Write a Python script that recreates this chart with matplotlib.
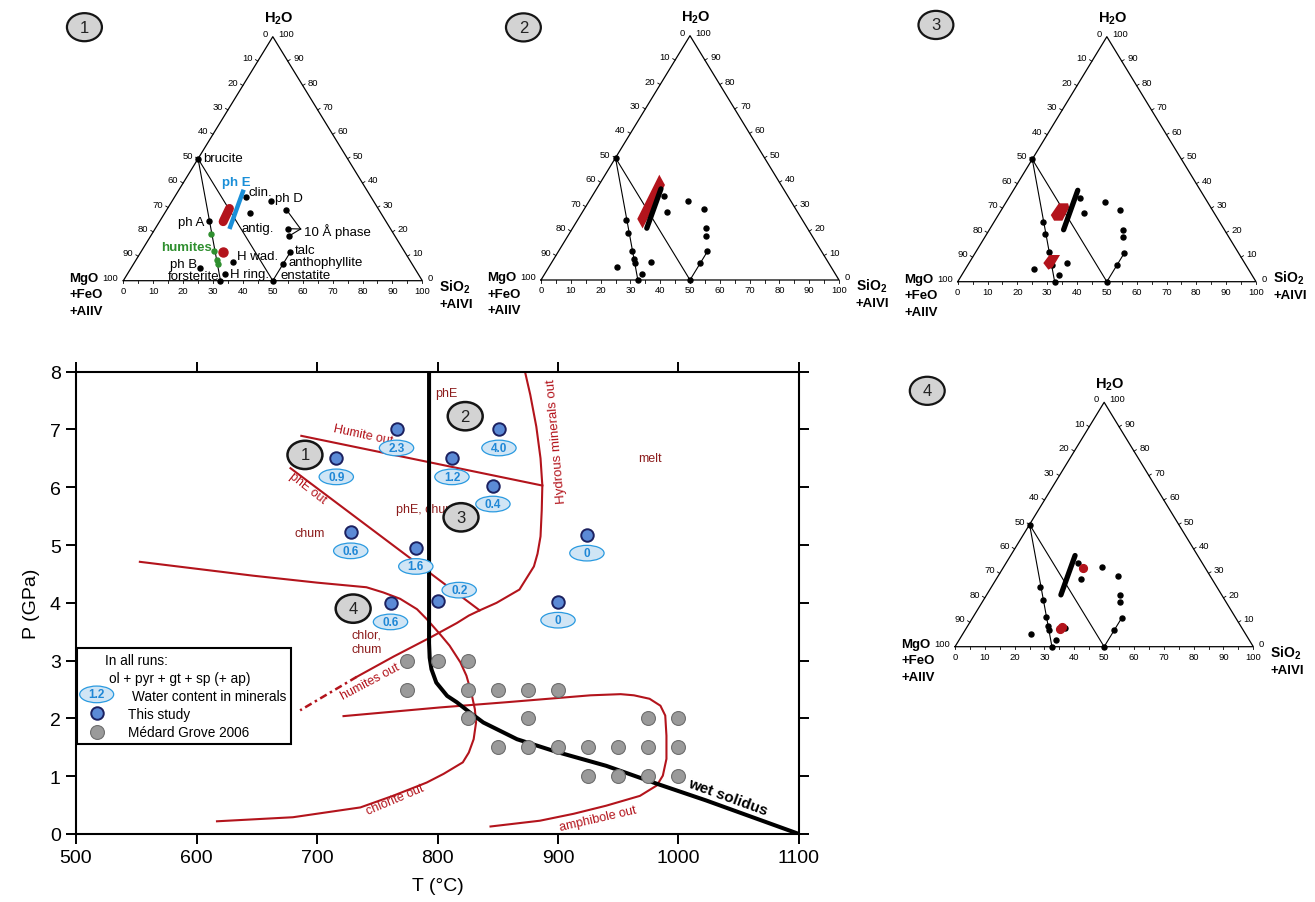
import numpy as np
import matplotlib.pyplot as plt
from matplotlib.patches import Ellipse, Rectangle, Polygon

plt.rcParams['font.family'] = ['Liberation Sans', 'DejaVu Sans']
plt.rcParams['mathtext.fontset'] = 'custom'
plt.rcParams['mathtext.rm'] = 'Liberation Sans'
plt.rcParams['mathtext.bf'] = 'Liberation Sans:bold'

RED = '#b3141c'
DARKRED = '#8c1c1c'
BLUE_PT = '#5b8ad6'
NAVY = '#1c2160'

# runs of this study: T (C), P (GPa), water content in minerals (wt%)
run_T = [716, 766, 812, 851, 846, 728, 782, 924, 800, 761, 900]
run_P = [6.5, 7.0, 6.5, 7.0, 6.03, 5.22, 4.95, 5.18, 4.03, 3.99, 4.02]
run_water = ['0.9', '2.3', '1.2', '4.0', '0.4', '0.6', '1.6', '0', '0.2', '0.6', '0']

# Medard & Grove 2006 runs
mg_T = [775, 800, 825,
        775, 825, 850, 875, 900,
        825, 875, 975, 1000,
        850, 875, 900, 925, 950, 975, 1000,
        925, 950, 975, 1000]
mg_P = [3.0, 3.0, 3.0,
        2.5, 2.5, 2.5, 2.5, 2.5,
        2.0, 2.0, 2.0, 2.0,
        1.5, 1.5, 1.5, 1.5, 1.5, 1.5, 1.5,
        1.0, 1.0, 1.0, 1.0]

# phase boundaries
solidus_T = [793, 793, 793.5, 795, 799, 808, 816, 827, 838, 866, 899, 940, 982, 1023, 1100]
solidus_P = [8.0, 3.3, 3.05, 2.85, 2.62, 2.39, 2.28, 2.10, 1.93, 1.64, 1.42, 1.18, 0.87, 0.58, 0.0]

humite_out_T = [687, 887]
humite_out_P = [6.89, 6.03]

phE_out_T = [678, 835]
phE_out_P = [6.33, 3.87]

hydrous_T = [872.6, 877, 882, 885.5, 887, 886.5, 885.5, 883, 880, 868, 849, 835, 826, 816, 794, 763.5, 733]
hydrous_P = [8.0, 7.6, 7.05, 6.5, 6.03, 5.6, 5.15, 4.85, 4.63, 4.23, 4.0, 3.87, 3.78, 3.65, 3.4, 3.07, 2.72]

humites_ext_T = [733, 686]
humites_ext_P = [2.72, 2.14]

chlorite_T = [553, 647, 700, 741, 755, 769, 783, 791, 802, 810, 819, 824, 828, 831, 832,
              830, 826, 821, 805, 791, 763, 736, 708, 680, 617]
chlorite_P = [4.71, 4.47, 4.35, 4.27, 4.18, 4.07, 3.89, 3.72, 3.46, 3.26, 2.97, 2.74, 2.45, 2.16, 1.93,
              1.64, 1.41, 1.24, 1.04, 0.89, 0.66, 0.46, 0.375, 0.29, 0.22]

amph_T = [722, 802, 857, 927, 952, 963, 976, 985, 989, 990, 990, 987, 982, 968, 940, 913, 885, 844]
amph_P = [2.04, 2.19, 2.28, 2.40, 2.42, 2.40, 2.34, 2.22, 2.05, 1.70, 1.30, 1.01, 0.84, 0.66, 0.49, 0.35, 0.23, 0.13]

# ternary compositions (mol% SiO2+AlVI, mol% H2O)
phase_sio2 = [0, 24.0, 33.0, 40.0, 28.3, 16.3, 44.6, 46.2, 50, 50, 50, 32.5, 32.7, 33.0, 22.9]
phase_h2o = [50, 34.3, 32.5, 29.1, 27.9, 24.5, 21.3, 18.2, 11.7, 6.8, 0, 0, 2.6, 7.5, 5.2]
humite_sio2 = [19.7, 24.5, 27.0, 28.2]
humite_h2o = [19.3, 12.0, 8.5, 6.8]
phE_sio2 = [21.6, 24.9]
phE_h2o = [37.3, 21.2]

# measured compositions for each panel
t1_blob_sio2 = [20.7, 21.3]
t1_blob_h2o = [29.6, 24.2]
t1_dot_sio2 = [27.4]
t1_dot_h2o = [11.6]
t2_field_sio2 = [19.8, 18.15, 22.15, 23.55]
t2_field_h2o = [25.0, 43.1, 38.9, 21.1]
t3_upper_sio2 = [17.6, 17.9, 21.0, 22.25, 22.65, 19.85]
t3_upper_h2o = [27.2, 32.0, 32.0, 30.3, 24.9, 24.9]
t3_lower_sio2 = [24.9, 25.25, 28.85, 28.9, 27.95]
t3_lower_h2o = [7.6, 10.9, 10.9, 5.85, 4.9]
t4_dot_sio2 = [26.8, 31.6, 31.95]
t4_dot_h2o = [32.2, 7.2, 8.05]


def txy(sio2, h2o):
    s = np.asarray(sio2, dtype=float)
    w = np.asarray(h2o, dtype=float)
    return s + w / 2, w


fig = plt.figure(figsize=(13.15, 9.03), dpi=100)
FW, FH = 1315, 903


def px_axes(left, top, right, bottom):
    return fig.add_axes([left / FW, 1 - bottom / FH, (right - left) / FW, (bottom - top) / FH])


# ---------------- P-T diagram ----------------
ax = px_axes(76, 372.7, 799, 835)
ax.set_xlim(500, 1100)
ax.set_ylim(0, 8)
ax.set_xticks(range(500, 1101, 100))
ax.set_yticks(range(0, 9))
ax.tick_params(direction='out', length=7, width=1.4, labelsize=14, pad=4,
               top=True, right=True, labeltop=False, labelright=False)
for sp in ax.spines.values():
    sp.set_linewidth(1.5)
ax.set_xlabel('T (°C)', fontsize=14)
ax.set_ylabel('P (GPa)', fontsize=14)
ax.xaxis.set_label_coords(0.5, -0.093)
ax.yaxis.set_label_coords(-0.05, 0.5)

ax.plot(humite_out_T, humite_out_P, color=RED, lw=1.5, zorder=2)
ax.plot(phE_out_T, phE_out_P, color=RED, lw=1.5, zorder=2)
ax.plot(hydrous_T, hydrous_P, color=RED, lw=1.5, zorder=2)
ax.plot(humites_ext_T, humites_ext_P, color=RED, lw=1.8, dashes=(3, 1.5, 1, 1.5), zorder=2)
ax.plot(chlorite_T, chlorite_P, color=RED, lw=1.5, zorder=2)
ax.plot(amph_T, amph_P, color=RED, lw=1.5, zorder=2)

region_style = dict(color=DARKRED, fontsize=9, ha='center', va='center', zorder=2)
ax.text(807, 7.63, 'phE', **region_style)
ax.text(976, 6.5, 'melt', **region_style)
ax.text(790, 5.63, 'phE, chum', **region_style)
ax.text(694, 5.21, 'chum', **region_style)
ax.text(741, 3.33, 'chlor,\nchum', linespacing=1.3, **region_style)

curve_style = dict(color=RED, fontsize=9, ha='center', va='center', rotation_mode='anchor')
ax.text(738, 6.92, 'Humite out', rotation=-12, **curve_style)
ax.text(692, 6.0, 'phE out', rotation=-38, **curve_style)
ax.text(899, 6.82, 'Hydrous minerals out', rotation=95, fontsize=9.5, color=RED,
        ha='center', va='center', rotation_mode='anchor')
ax.text(744, 2.65, 'humites out', rotation=28, **curve_style)
ax.text(765, 0.61, 'chlorite out', rotation=23, **curve_style)
ax.text(933, 0.28, 'amphibole out', rotation=13, **curve_style)

ax.plot(solidus_T, solidus_P, color='black', lw=2.9, solid_capstyle='butt', zorder=3)
ax.text(1041, 0.64, 'wet solidus', rotation=-20, fontsize=11, fontweight='bold',
        ha='center', va='center', rotation_mode='anchor', zorder=3)

ax.plot(mg_T, mg_P, 'o', ms=10, mfc='#9a9a9a', mec='#6e6e6e', mew=0.8, zorder=4)
ax.plot(run_T, run_P, 'o', ms=9, mfc=BLUE_PT, mec=NAVY, mew=1.4, zorder=5)

# water-content tags below each run
for t, p, w in zip(run_T, run_P, run_water):
    dt, dp = (18, 0.19) if w == '0.2' else (0, -0.32)
    ax.add_patch(Ellipse((t + dt, p + dp), 28.5, 0.27, fc='#d0e5f5', ec='#2a9ae0', lw=0.9, zorder=6))
    ax.text(t + dt, p + dp, w, color='#1f87d6', fontsize=8.5, fontweight='bold',
            ha='center', va='center', zorder=7)

# numbered markers pointing to the ternary panels
for num, t, p in [('1', 690, 6.56), ('2', 823, 7.23), ('3', 819.5, 5.48), ('4', 730, 3.9)]:
    ax.add_patch(Ellipse((t, p), 29, 0.49, fc='#d3d3d3', ec='#151515', lw=1.8, zorder=6))
    ax.text(t, p, num, fontsize=12, color='#222222', ha='center', va='center', zorder=7)

# legend box
ax.add_patch(Rectangle((0.001, 0.194), 0.297, 0.209, transform=ax.transAxes,
                       fc='white', ec='black', lw=1.5, zorder=8))
leg_txt = dict(transform=ax.transAxes, fontsize=9.8, va='center', ha='left', zorder=9)
ax.text(0.040, 0.376, 'In all runs:', **leg_txt)
ax.text(0.046, 0.337, 'ol + pyr + gt + sp (+ ap)', **leg_txt)
ax.add_patch(Ellipse((0.0286, 0.302), 0.047, 0.036, transform=ax.transAxes,
                     fc='#d0e5f5', ec='#2a9ae0', lw=0.9, zorder=9))
ax.text(0.0286, 0.302, '1.2', transform=ax.transAxes, color='#1f87d6', fontsize=8.5,
        fontweight='bold', ha='center', va='center', zorder=10)
ax.text(0.078, 0.299, 'Water content in minerals', **leg_txt)
ax.plot([0.0286], [0.261], 'o', ms=9, mfc=BLUE_PT, mec=NAVY, mew=1.4,
        transform=ax.transAxes, zorder=9, clip_on=False)
ax.text(0.072, 0.259, 'This study', **leg_txt)
ax.plot([0.0286], [0.220], 'o', ms=10, mfc='#9a9a9a', mec='#6e6e6e', mew=0.8,
        transform=ax.transAxes, zorder=9, clip_on=False)
ax.text(0.072, 0.220, 'Médard Grove 2006', **leg_txt)


# ---------------- ternary panels ----------------
def ternary(ax, number, badge_xy, sio2_y=-4.0, humite_color='black'):
    ax.set_xlim(0, 100)
    ax.set_ylim(0, 100)
    ax.axis('off')
    ax.plot([0, 100, 50, 0], [0, 0, 100, 0], color='black', lw=0.9, clip_on=False)

    tick = dict(fontsize=6.8, textcoords='offset points', va='center', annotation_clip=False)
    for v in range(0, 101, 10):
        ax.annotate(str(v), (v, 0), xytext=(0, -7), ha='center', **tick)
        ax.annotate(str(v), ((100 - v) / 2, 100 - v), xytext=(-3.5, 2.5), ha='right', **tick)
        ax.annotate(str(v), (100 - v / 2, v), xytext=(3.8, 2.5), ha='left', **tick)
    for v in range(0, 101, 5):
        ax.plot([v, v], [0, -1.1], color='black', lw=0.6, clip_on=False)
    for v in range(10, 100, 10):
        ax.plot([v / 2, v / 2 - 0.8], [v, v + 0.6], color='black', lw=0.6, clip_on=False)
        ax.plot([100 - v / 2, 100 - v / 2 + 0.8], [v, v + 0.6], color='black', lw=0.6, clip_on=False)

    ax.text(52, 106, r'$\mathbf{H_2O}$', fontsize=10.5, ha='center', va='baseline')
    for i, line in enumerate(['MgO', '+FeO', '+AlIV']):
        ax.text(-18, -6.8 * i, line, fontsize=9.5, fontweight='bold', ha='left', va='baseline')
    ax.text(105.7, sio2_y, r'$\mathbf{SiO_2}$', fontsize=10, ha='left', va='baseline')
    ax.text(105.7, sio2_y - 6.8, '+AlVI', fontsize=9.5, fontweight='bold', ha='left', va='baseline')

    ax.add_patch(Ellipse(badge_xy, 11.7, 11.5, fc='#d3d3d3', ec='#151515', lw=1.6, clip_on=False))
    ax.text(badge_xy[0], badge_xy[1], number, fontsize=12, color='#222222', ha='center', va='center')

    # tie lines: brucite-forsterite, brucite-enstatite, enstatite-anthophyllite-talc
    bx, by = txy([0, 32.5], [50, 0])
    ax.plot(bx, by, color='black', lw=0.8)
    bx, by = txy([0, 50], [50, 0])
    ax.plot(bx, by, color='black', lw=0.8)
    bx, by = txy([50, 50, 50], [0, 6.8, 11.7])
    ax.plot(bx, by, color='black', lw=0.8)

    px, py = txy(phase_sio2, phase_h2o)
    ax.plot(px, py, 'o', ms=3.6, color='black', clip_on=False, zorder=4)
    hx, hy = txy(humite_sio2, humite_h2o)
    ax.plot(hx, hy, 'o', ms=3.6, color=humite_color, zorder=4)


t1 = px_axes(123.3, 37.7, 422.3, 281.7)
t2 = px_axes(541, 36.7, 839, 281)
t3 = px_axes(957.7, 37.7, 1256, 282.7)
t4 = px_axes(955, 403.3, 1253.3, 647.7)

GREEN = '#2f8f2f'
ternary(t1, '1', (-13, 103.9), humite_color=GREEN)
ternary(t2, '2', (-5.9, 103.4))
ternary(t3, '3', (-7.3, 104.8), sio2_y=0.0)
ternary(t4, '4', (-9.3, 104.7))

# panel 1: phase names and measured compositions
ex, ey = txy(phE_sio2, phE_h2o)
t1.plot(ex, ey, color='#1a8fd8', lw=3.2, solid_capstyle='butt', zorder=5)
bx, by = txy(t1_blob_sio2, t1_blob_h2o)
t1.plot(bx, by, color=RED, lw=6.5, solid_capstyle='round', zorder=5)
dx, dy = txy(t1_dot_sio2, t1_dot_h2o)
t1.plot(dx, dy, 'o', ms=6.5, color=RED, zorder=5)

tx, ty = txy([40.0, 44.6, 46.2], [29.1, 21.3, 18.2])
for x0, y0 in zip(tx, ty):
    t1.plot([x0, 59.3], [y0, 21.2], color='black', lw=0.8)

lab = dict(fontsize=9.5, va='center')
for name, x, y, ha in [('brucite', 26.6, 50.2, 'left'), ('clin.', 42.0, 36.5, 'left'),
                       ('ph D', 50.7, 33.8, 'left'), ('ph A', 27.0, 24.2, 'right'),
                       ('antig.', 39.6, 21.5, 'left'), ('10 Å phase', 60.4, 20.5, 'left'),
                       ('talc', 57.2, 12.7, 'left'), ('H wad.', 37.9, 10.2, 'left'),
                       ('anthophyllite', 55.3, 7.5, 'left'), ('ph B', 24.7, 6.8, 'right'),
                       ('forsterite', 32.1, 2.0, 'right'), ('H ring.', 35.6, 2.6, 'left'),
                       ('enstatite', 52.6, 2.3, 'left')]:
    t1.text(x, y, name, ha=ha, **lab)
t1.text(37.9, 40.6, 'ph E', color='#1a8fd8', fontweight='bold', ha='center', **lab)
t1.text(29.6, 13.7, 'humites', color=GREEN, fontweight='bold', ha='right', **lab)

# panels 2-4: phase E line and measured fields
for tax in (t2, t3, t4):
    tax.plot(ex, ey, color='black', lw=3.8, solid_capstyle='round', zorder=5)

t2.add_patch(Polygon(np.column_stack(txy(t2_field_sio2, t2_field_h2o)), fc=RED, ec='none', zorder=4))
t3.add_patch(Polygon(np.column_stack(txy(t3_upper_sio2, t3_upper_h2o)), fc=RED, ec='none', zorder=4))
t3.add_patch(Polygon(np.column_stack(txy(t3_lower_sio2, t3_lower_h2o)), fc=RED, ec='none', zorder=6))
qx, qy = txy(t4_dot_sio2, t4_dot_h2o)
t4.plot(qx, qy, 'o', ms=5.6, color=RED, zorder=6)

fig.savefig('out.png', dpi=100)
